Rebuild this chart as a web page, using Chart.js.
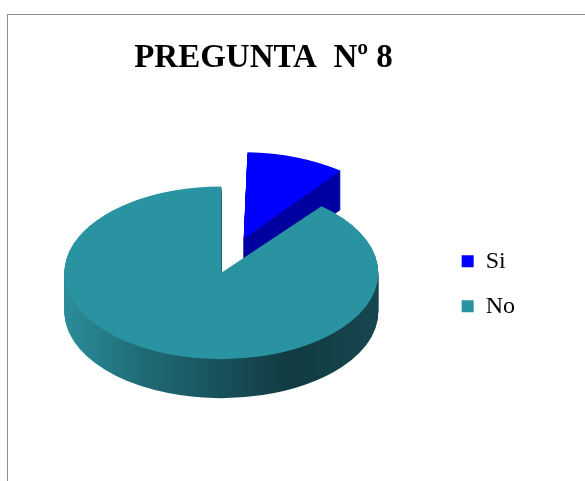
<!DOCTYPE html>
<html>
<head>
<meta charset="utf-8">
<script src="https://cdn.jsdelivr.net/npm/chart.js@4"></script>
<style>
  body { margin: 0; background: #fff; }
  #wrap { position: relative; width: 585px; height: 481px; }
  #frame { position: absolute; left: 7px; top: 14px; right: -2px; bottom: -2px; border-left: 1px solid #8c8c8c; border-top: 1px solid #8c8c8c; }
  canvas { position: absolute; left: 0; top: 0; }
</style>
</head>
<body>
<div id="wrap">
  <div id="frame"></div>
  <canvas id="pieChart"></canvas>
</div>
<script>
const labels = ['Si', 'No'];
const values = [11, 89];
const topColors = ['#0000ff', '#2a93a1'];

// fake 3D: squash the pie and stack darker copies under it
const TILT = 0.55;
const DEPTH = 39;
const LIFT = 11;

const pie3d = {
    id: 'pie3d',
    afterDatasetUpdate(chart) {
        // chart.js grows exploded arcs a bit, keep them the same size as the rest
        chart.getDatasetMeta(0).data.forEach(arc => {
            const off = (arc.options.offset || 0) / 4;
            arc.outerRadius -= off * (1 - Math.sin(Math.min(Math.PI, arc.circumference)));
        });
    },
    beforeDatasetsDraw(chart) {
        const ctx = chart.ctx;
        const arcs = chart.getDatasetMeta(0).data;
        const {x, y} = arcs[0];
        const r = arcs[1].outerRadius;
        ctx.save();
        ctx.translate(x, y - LIFT);
        ctx.scale(1, TILT);
        ctx.translate(-x, -y);

        const grad = ctx.createLinearGradient(x - r, 0, x + r, 0);
        grad.addColorStop(0, '#2b8d9a');
        grad.addColorStop(0.25, '#1f6b76');
        grad.addColorStop(0.72, '#113a42');
        grad.addColorStop(1, '#164750');
        const sideColors = ['#0000a0', grad];

        for (let k = DEPTH; k >= 1; k--) {
            arcs.forEach((arc, i) => {
                const side = Object.create(arc);
                side.options = Object.assign({}, arc.options, {backgroundColor: sideColors[i], borderWidth: 0});
                ctx.save();
                ctx.translate(0, k / TILT);
                Chart.ArcElement.prototype.draw.call(side, ctx);
                ctx.restore();
            });
        }
    },
    afterDatasetsDraw(chart) {
        chart.ctx.restore();
    }
};

new Chart(document.getElementById('pieChart').getContext('2d'), {
    type: 'pie',
    data: {
        labels: labels,
        datasets: [{
            data: values,
            backgroundColor: topColors,
            borderWidth: 0,
            offset: [264, 0],
            clip: false
        }]
    },
    options: {
        responsive: true,
        maintainAspectRatio: false,
        animation: false,
        radius: 157,
        layout: { padding: { left: 2, right: 60, top: 0, bottom: 22 } },
        plugins: {
            title: {
                display: true,
                text: 'PREGUNTA  Nº 8',
                color: '#000',
                font: { family: 'Liberation Serif', size: 33, weight: 'bold' },
                padding: { top: 39, bottom: 30 }
            },
            legend: {
                position: 'right',
                fullSize: false,
                labels: {
                    color: '#000',
                    font: { family: 'Liberation Serif', size: 24 },
                    boxWidth: 12,
                    boxHeight: 12,
                    padding: 21
                }
            },
            tooltip: { enabled: false }
        }
    },
    plugins: [pie3d]
});
</script>
</body>
</html>
